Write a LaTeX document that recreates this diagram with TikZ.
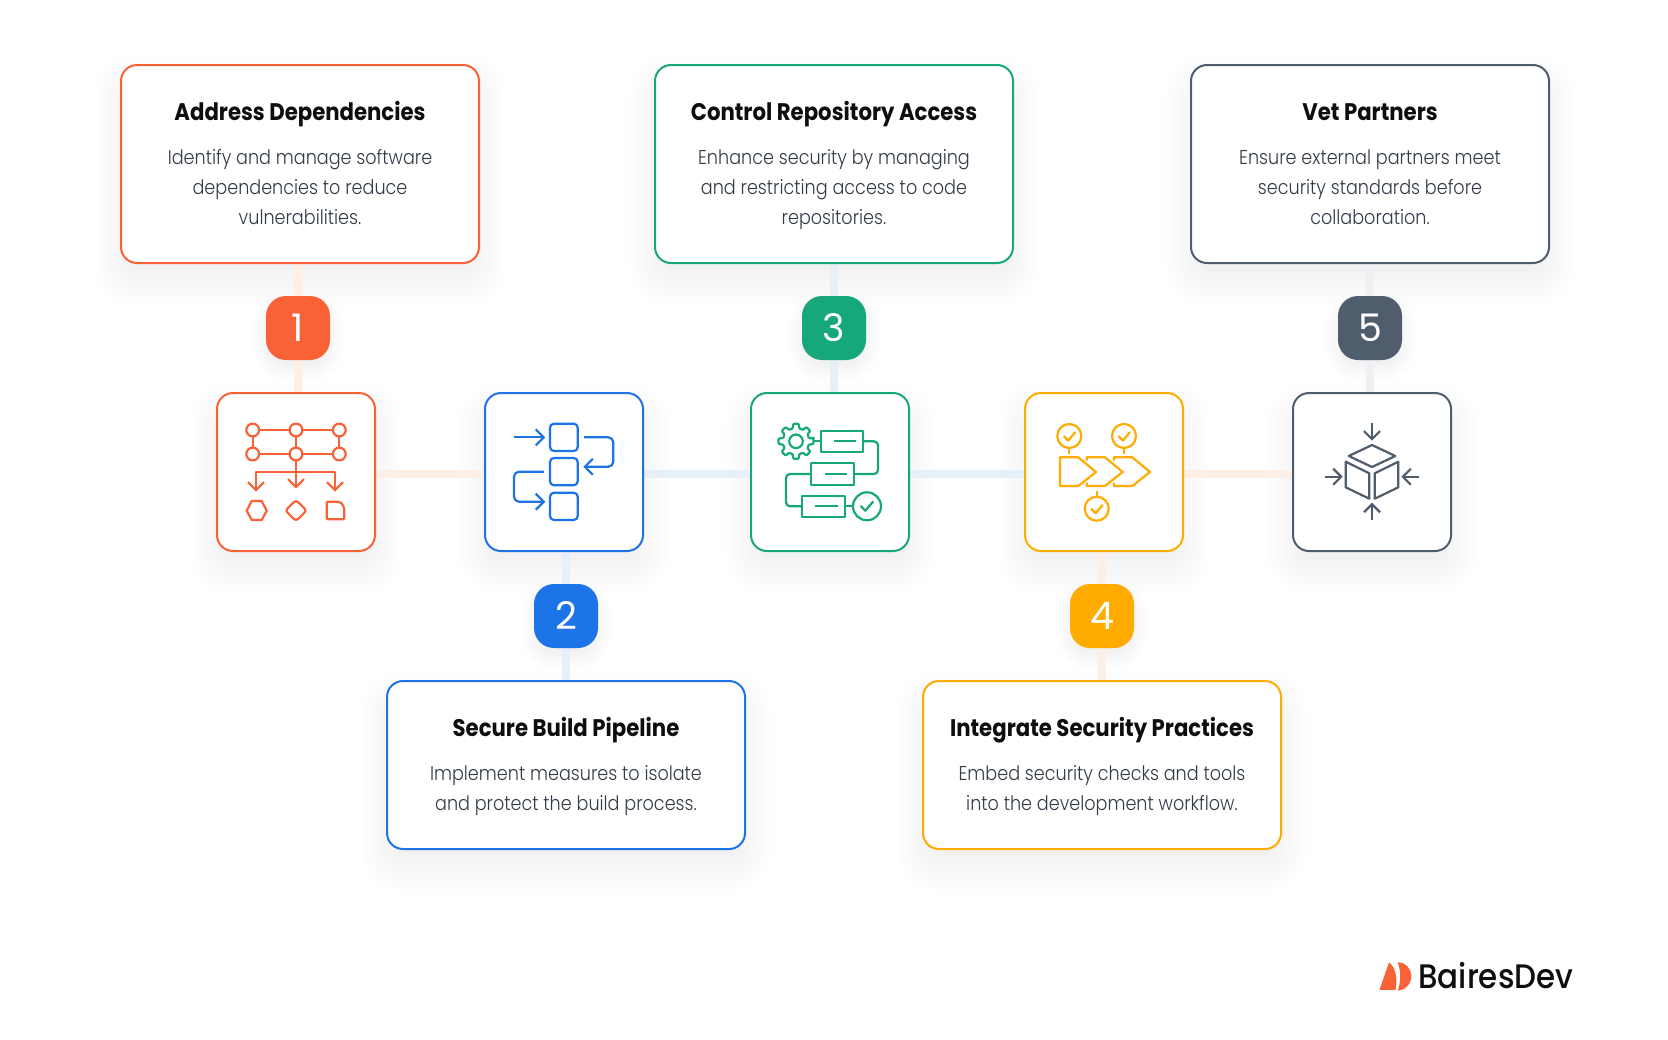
\documentclass[tikz,border=0pt]{standalone}
\usepackage{fontspec}
\usetikzlibrary{arrows.meta,positioning}
\setmainfont{Poppins}
\newfontfamily\titlef{Poppins}[UprightFont=* Bold,FakeStretch=0.885]
\newfontfamily\bodyf{Poppins}[UprightFont=* Light,FakeStretch=0.88]
\newfontfamily\numf{Poppins}[UprightFont=*]
\newfontfamily\logof{Poppins}[UprightFont=* Medium,FakeStretch=0.91]
\definecolor{cO}{HTML}{F96237}
\definecolor{cB}{HTML}{1D74E7}
\definecolor{cG}{HTML}{16A87C}
\definecolor{cA}{HTML}{FFAB00}
\definecolor{cS}{HTML}{4F5D6D}
\definecolor{lO}{HTML}{FBEFE6}
\definecolor{lB}{HTML}{E7F0F6}
\definecolor{lS}{HTML}{EEF1F3}
\definecolor{txt}{HTML}{333B48}
\definecolor{ttl}{HTML}{0E0E10}
\definecolor{shc}{HTML}{404A60}
\pgfdeclarelayer{bg}
\pgfdeclarelayer{shad}
\pgfdeclarelayer{conn}
\pgfsetlayers{bg,shad,conn,main}
\newcommand{\softshadow}[3]{%
  \begin{pgfonlayer}{shad}
  \foreach \dd in {-24,-21,...,27}{
    \pgfmathsetmacro{\ddd}{\dd*#3}
    \pgfmathsetmacro{\rr}{max((#2+\ddd)*0.5,1)}
    \pgfmathsetmacro{\xs}{\ddd*0.5}
    \pgfmathsetmacro{\ya}{(-\ddd-16*#3)*0.5}
    \pgfmathsetmacro{\yb}{(\ddd-16*#3)*0.5}
    \pgfmathsetmacro{\xn}{-\ddd*0.5}
    \fill[shc,opacity=0.0055,rounded corners=\rr pt]
      ([xshift=\xn pt,yshift=\ya pt]#1.south west) rectangle
      ([xshift=\xs pt,yshift=\yb pt]#1.north east);
  }
  \end{pgfonlayer}}
\tikzset{
  card/.style={draw=#1,fill=white,line width=1pt,rounded corners=8pt,minimum width=179pt,inner sep=0pt,outer sep=0pt},
  iconbox/.style={draw=#1,fill=white,line width=1pt,rounded corners=8pt,minimum width=79pt,minimum height=79pt,inner sep=0pt,outer sep=0pt},
  badge/.style={fill=#1,rounded corners=10pt,minimum width=32pt,minimum height=32pt,inner sep=0pt,outer sep=0pt,text=white,font=\numf\fontsize{19}{19}\selectfont},
  ttlnode/.style={anchor=base,text=ttl,font=\titlef\fontsize{12}{14}\selectfont,inner sep=0pt},
  bodynode/.style={text=txt,font=\bodyf\fontsize{10}{15}\selectfont,inner sep=0pt,align=center},
  wire/.style={line width=3.8pt},
  ic/.style={draw=#1,line width=1.1pt,line join=round,fill=none},
  arr/.style={-{Straight Barb[length=4pt,width=8pt,line width=1.1pt]}},
  arrr/.style={{Straight Barb[length=4pt,width=8pt,line width=1.1pt]}-{Straight Barb[length=4pt,width=8pt,line width=1.1pt]}},
}
\begin{document}
\begin{tikzpicture}[x=0.5pt,y=-0.5pt]
\begin{pgfonlayer}{bg}
\fill[white] (0,0) rectangle (1668,1039);
\end{pgfonlayer}
\useasboundingbox (0,0) rectangle (1668,1039);
% cards
\node[card=cO,minimum height=99pt] (card1) at (300,164) {};
\node[card=cB,minimum height=84pt] (card2) at (566,765) {};
\node[card=cG,minimum height=99pt] (card3) at (834,164) {};
\node[card=cA,minimum height=84pt] (card4) at (1102,765) {};
\node[card=cS,minimum height=99pt] (card5) at (1370,164) {};
% icon boxes
\node[iconbox=cO] (icon1) at (296,472) {};
\node[iconbox=cB] (icon2) at (564,472) {};
\node[iconbox=cG] (icon3) at (830,472) {};
\node[iconbox=cA] (icon4) at (1104,472) {};
\node[iconbox=cS] (icon5) at (1372,472) {};
% badges
\node[badge=cO] (badge1) at (298,328) {1};
\node[badge=cB] (badge2) at (566,616) {2};
\node[badge=cG] (badge3) at (834,328) {3};
\node[badge=cA] (badge4) at (1102,616) {4};
\node[badge=cS] (badge5) at (1370,328) {5};
% shadows
\foreach \n in {card1,card2,card3,card4,card5}{\softshadow{\n}{16}{1}}
\foreach \n in {icon1,icon2,icon3,icon4,icon5}{\softshadow{\n}{16}{1}}
\foreach \n in {badge1,badge2,badge3,badge4,badge5}{\softshadow{\n}{20}{0.5}}
% connectors
\begin{pgfonlayer}{conn}
\draw[wire,lO] (badge1 |- card1.south) -- (badge1) -- (badge1 |- icon1.north);
\draw[wire,lB] (badge2 |- icon2.south) -- (badge2) -- (badge2 |- card2.north);
\draw[wire,lB] (badge3 |- card3.south) -- (badge3) -- (badge3 |- icon3.north);
\draw[wire,lO] (badge4 |- icon4.south) -- (badge4) -- (badge4 |- card4.north);
\draw[wire,lS] (badge5 |- card5.south) -- (badge5) -- (badge5 |- icon5.north);
\draw[wire,lO] ([yshift=-1pt]icon1.east) -- ([yshift=-1pt]icon2.west);
\draw[wire,lB] ([yshift=-1pt]icon2.east) -- ([yshift=-1pt]icon3.west);
\draw[wire,lB] ([yshift=-1pt]icon3.east) -- ([yshift=-1pt]icon4.west);
\draw[wire,lO] ([yshift=-1pt]icon4.east) -- ([yshift=-1pt]icon5.west);
\end{pgfonlayer}
% card text
\node[ttlnode] (t1) at (300,120) {Address Dependencies};
\node[bodynode] (b1) at (300,188) {\strut Identify and manage software\\\strut dependencies to reduce\\\strut vulnerabilities.};
\node[ttlnode] (t2) at (566,736) {Secure Build Pipeline};
\node[bodynode] (b2) at (566,789) {\strut Implement measures to isolate\\\strut and protect the build process.};
\node[ttlnode] (t3) at (834,120) {Control Repository Access};
\node[bodynode] (b3) at (834,188) {\strut Enhance security by managing\\\strut and restricting access to code\\\strut repositories.};
\node[ttlnode] (t4) at (1102,736) {Integrate Security Practices};
\node[bodynode] (b4) at (1102,789) {\strut Embed security checks and tools\\\strut into the development workflow.};
\node[ttlnode] (t5) at (1370,120) {Vet Partners};
\node[bodynode] (b5) at (1370,188) {\strut Ensure external partners meet\\\strut security standards before\\\strut collaboration.};
% icon 1
\begin{scope}[ic=cO]
\draw (252.7,430) -- (339.3,430) (252.7,454) -- (339.3,454)
      (252.7,430) -- (252.7,454) (296,430) -- (296,454) (339.3,430) -- (339.3,454);
\foreach \x in {252.7,296,339.3}\foreach \y in {430,454}{\draw[fill=white] (\x,\y) circle[radius=3.2pt];}
\draw[arr] (296,460) -- (296,488.7);
\draw[arrr] (256,491.7) -- (256,471.7) -- (335,471.7) -- (335,491.7);
\draw (246.7,510.7) -- (251.7,501) -- (261.7,501) -- (266.7,510.7) -- (261.7,520) -- (251.7,520) -- cycle;
\draw[rounded corners=1.5pt] (296,500) -- (306.7,510.5) -- (296,521) -- (285.3,510.5) -- cycle;
\draw[rounded corners=1pt] (326.7,501.7) -- (340,501.7) [rounded corners=2pt] -- (344.3,506) [rounded corners=0.5pt] -- (344.3,519.3) -- (326.7,519.3) -- cycle;
\end{scope}
% icon 2
\begin{scope}[ic=cB]
\foreach \y in {423.7,458,492.7}{\draw[rounded corners=2pt] (550,\y) rectangle (577.7,\y+27.3);}
\draw[arr] (514,437.3) -- (545.3,437.3);
\draw[arr,rounded corners=2.5pt] (584,437.3) -- (613.3,437.3) -- (613.3,466.7) -- (583.3,466.7);
\draw[arr,rounded corners=2.5pt] (544,471.7) -- (514,471.7) -- (514,501.7) -- (545.3,501.7);
\end{scope}
% icon 3
\begin{scope}[ic=cG,shift={(796,441.3)}]
\draw (0,0) circle[radius=3.4pt];
\draw[rounded corners=0.5pt] (-9:17.7) \foreach \a in {0,45,...,315}{ -- (\a-9:17.7) -- (\a+9:17.7) -- (\a+14:13.3) -- (\a+31:13.3)} -- cycle;
\end{scope}
\begin{scope}[ic=cG]
\draw (820.7,430.7) rectangle (862.7,452) (834,441.3) -- (856,441.3);
\draw (811.3,463.3) rectangle (854,484.7) (824.7,474) -- (846.7,474);
\draw (802,495.7) rectangle (844.7,517) (815.3,506.3) -- (838,506.3);
\draw (813.5,441.3) -- (820.7,441.3);
\draw[rounded corners=2pt] (862.7,441.3) -- (878,441.3) -- (878,474) -- (854,474);
\draw[rounded corners=2pt] (811.3,474) -- (786,474) -- (786,506.3) -- (802,506.3);
\draw (844.7,506.3) -- (853,506.3);
\draw (867,506.3) circle[radius=7pt];
\draw (860.7,506) -- (865.3,510.7) -- (873.3,501.3);
\end{scope}
% icon 4
\begin{scope}[ic=cA]
\foreach \x/\y in {1069.3/436,1124/436,1096.7/508.7}{
  \draw (\x,\y) circle[radius=6pt];
  \draw (\x-5.7,\y) -- (\x-1,\y+4.5) -- (\x+6,\y-4);}
\draw (1069.3,448) -- (1069.3,454) (1124,448) -- (1124,454) (1096.7,496.7) -- (1096.7,490.7);
\draw (1060,457.3) -- (1078.3,457.3) -- (1096,472) -- (1078.3,486) -- (1060,486) -- cycle;
\draw (1086.7,460.7) -- (1086.7,457.3) -- (1105,457.3) -- (1122.7,472) -- (1105,486) -- (1086.7,486) -- (1086.7,482.7);
\draw (1114,460.7) -- (1114,457.3) -- (1132.3,457.3) -- (1150,472) -- (1132.3,486) -- (1114,486) -- (1114,482.7);
\end{scope}
% icon 5
\begin{scope}[ic=cS]
\draw[arr] (1372,423.3) -- (1372,440.7);
\draw[arr] (1372,520) -- (1372,502.7);
\draw[arr] (1325.3,476.7) -- (1342.7,476.7);
\draw[arr] (1418.7,476.7) -- (1401.3,476.7);
\draw (1372,445) -- (1395.3,456) -- (1372,467) -- (1348.7,456) -- cycle;
\draw (1345.7,461.7) -- (1369.3,473.3) -- (1369.3,498.7) -- (1345.7,487.3) -- cycle;
\draw (1398.3,461.7) -- (1374.7,473.3) -- (1374.7,498.7) -- (1398.3,487.3) -- cycle;
\end{scope}
% logo
\fill[cO] (1389,962.3) .. controls (1394,966) and (1398.5,976) .. (1395.5,989.8) -- (1379.5,989.8) -- cycle;
\fill[cO] (1397.7,962.3) .. controls (1406,962.3) and (1411.3,969) .. (1411.3,976) .. controls (1411.3,984) and (1405,990.5) .. (1397.7,990.7) .. controls (1401,982) and (1401,971) .. (1397.7,962.3) -- cycle;
\node[anchor=base west,inner sep=0pt,text=ttl,font=\logof\fontsize{17}{17}\selectfont] (logo) at (1418,988) {BairesDev};
\end{tikzpicture}
\end{document}
